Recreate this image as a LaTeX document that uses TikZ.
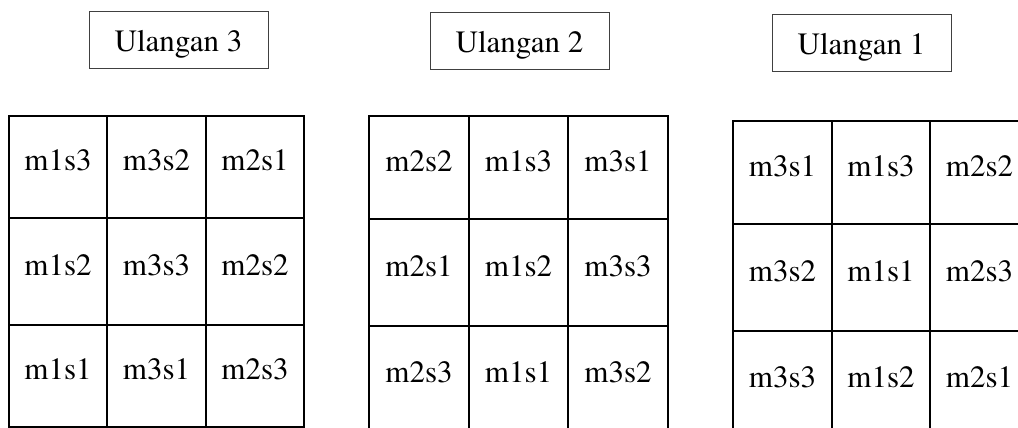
\documentclass[tikz,border=0pt]{standalone}
\usepackage{fontspec}
\setmainfont{TeX Gyre Termes}

\begin{document}
\begin{tikzpicture}[x=1pt, y=-1pt,
        every node/.style={font=\fontsize{31}{36}\selectfont, inner sep=0pt},
        title/.style={draw=black!75, line width=0.8pt, minimum width=179pt, minimum height=57pt, text height=24pt, text depth=0pt},
        cell/.style={draw, line width=2pt, minimum height=103pt, text height=21pt, text depth=14pt},
        tall/.style={minimum height=107pt}]
            \clip (0, 0) rectangle (1018, 428);

            % titles
            \draw
                (178.5, 39.5) node (u3) [title] {Ulangan 3}
                (519.5, 41) node (u2) [title] {Ulangan 2}
                (861.5, 43) node (u1) [title] {Ulangan 1}
            ;

            % Ulangan 3
            \draw[every node/.append style={minimum width=98.5pt}]
                (58, 167) node (c3a) [cell, minimum height=102pt] {m1s3}
                (156.5, 167) node (c3b) [cell, minimum height=102pt] {m3s2}
                (255, 167) node (c3c) [cell, minimum height=102pt] {m2s1}

                (58, 271.5) node (c3d) [cell, tall] {m1s2}
                (156.5, 271.5) node (c3e) [cell, tall] {m3s3}
                (255, 271.5) node (c3f) [cell, tall] {m2s2}

                (58, 376) node (c3g) [cell, minimum height=102pt] {m1s1}
                (156.5, 376) node (c3h) [cell, minimum height=102pt] {m3s1}
                (255, 376) node (c3i) [cell, minimum height=102pt] {m2s3}
            ;

            % Ulangan 2
            \draw[every node/.append style={minimum width=99.5pt}]
                (419, 167.5) node (c2a) [cell] {m2s2}
                (518.5, 167.5) node (c2b) [cell] {m1s3}
                (618, 167.5) node (c2c) [cell] {m3s1}

                (419, 272.5) node (c2d) [cell, tall] {m2s1}
                (518.5, 272.5) node (c2e) [cell, tall] {m1s2}
                (618, 272.5) node (c2f) [cell, tall] {m3s3}

                (419, 378.5) node (c2g) [cell, minimum height=105pt] {m2s3}
                (518.5, 378.5) node (c2h) [cell, minimum height=105pt] {m1s1}
                (618, 378.5) node (c2i) [cell, minimum height=105pt] {m3s2}
            ;

            % Ulangan 1
            \draw[every node/.append style={minimum width=98.7pt}]
                (782.5, 172.5) node (c1a) [cell] {m3s1}
                (881, 172.5) node (c1b) [cell] {m1s3}
                (979.5, 172.5) node (c1c) [cell] {m2s2}

                (782.5, 277.5) node (c1d) [cell, tall] {m3s2}
                (881, 277.5) node (c1e) [cell, tall] {m1s1}
                (979.5, 277.5) node (c1f) [cell, tall] {m2s3}

                (782.5, 383.5) node (c1g) [cell, minimum height=105pt] {m3s3}
                (881, 383.5) node (c1h) [cell, minimum height=105pt] {m1s2}
                (979.5, 383.5) node (c1i) [cell, minimum height=105pt] {m2s1}
            ;

        \end{tikzpicture}
\end{document}
